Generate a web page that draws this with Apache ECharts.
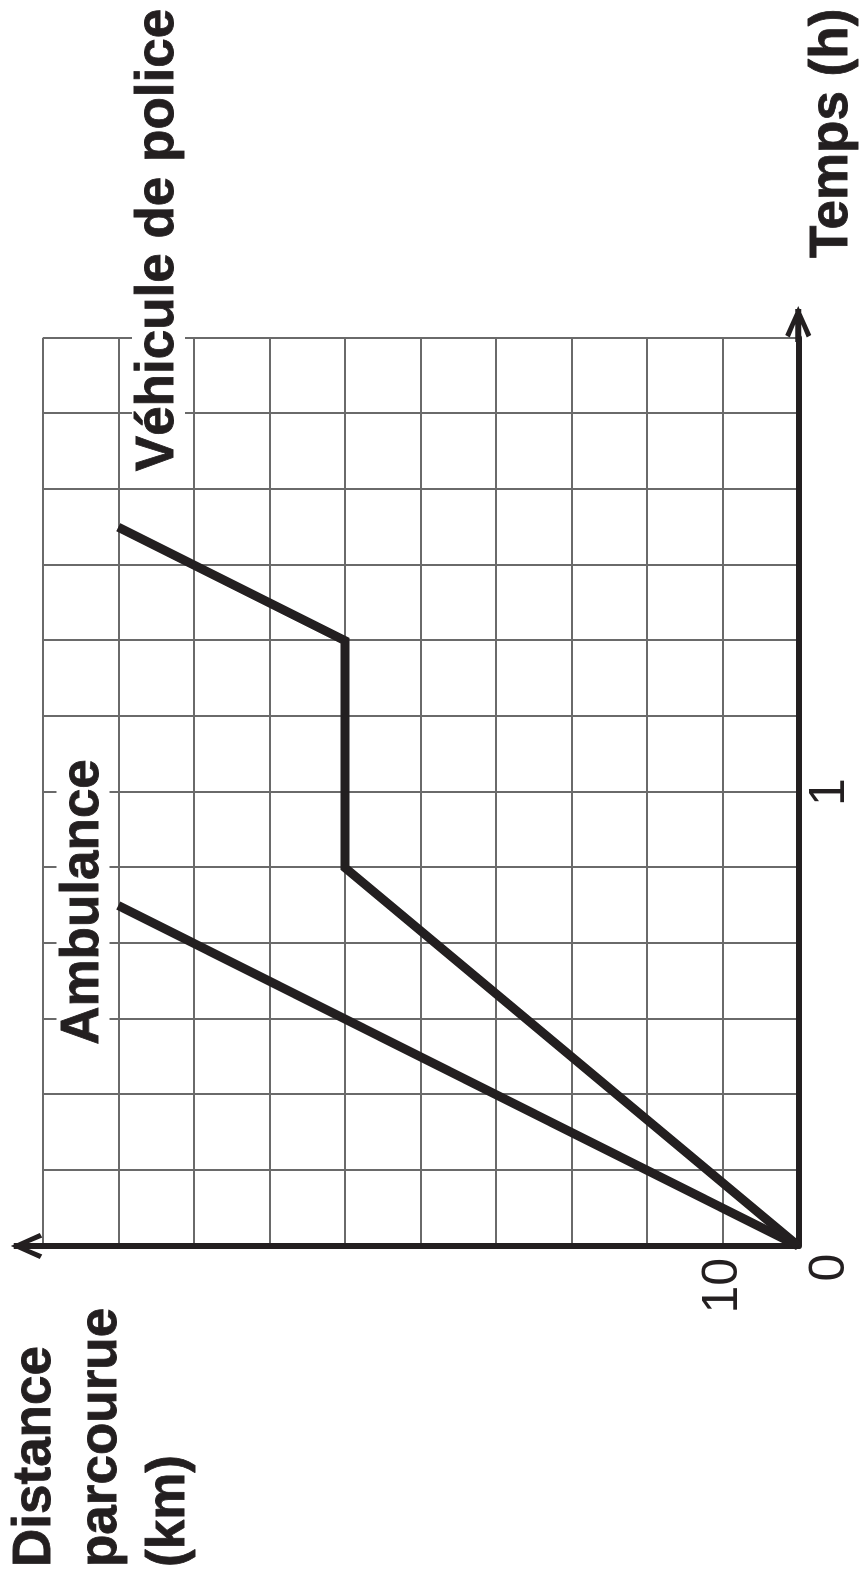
<!DOCTYPE html>
<html><head><meta charset="utf-8">
<script src="https://cdn.jsdelivr.net/npm/echarts@6/dist/echarts.min.js"></script>
<style>
html,body{margin:0;padding:0;background:#fff;overflow:hidden;width:862px;height:1581px;}
#wrap{position:absolute;left:0;top:0;width:1581px;height:862px;transform-origin:0 0;transform:translate(0,1581px) rotate(-90deg);background:#fff;}
</style></head><body><div id="wrap"></div>
<script>
// Time in minutes (axis labelled in hours), distance in km
const timeTicksMin = [0, 60];
const timeTickLabels = ['0', '1'];
const distTicks = [10];
const distTickLabels = ['10'];
const ambulanceTime = [0, 45];
const ambulanceDist = [0, 90];
const policeTime = [0, 50, 80, 95];
const policeDist = [0, 60, 60, 90];
const xTitle = 'Temps (h)';
const yTitleLines = ['Distance', 'parcourue', '(km)'];
const ambulanceName = 'Ambulance';
const policeName = 'Véhicule de police';

const INK = '#231f20';
const GRID = '#6a6a6a';
const FONT = '"Liberation Sans", Arial, Helvetica, sans-serif';
const arrowPath = 'path://M13,0 L26,29 L21.5,31.5 L13,11 L4.5,31.5 L0,29 Z M10,3 L16,3 L16,36 L10,36 Z';

const chart = echarts.init(document.getElementById('wrap'), null, {renderer: 'canvas'});

function pairs(xs, ys) { return xs.map((x, i) => [x, ys[i]]); }

const titleFont = 'bold 53px ' + FONT;
function titleStyle(text, align, bg) {
  const s = {text: text, font: titleFont, fill: INK, stroke: INK, lineWidth: 0.8,
    align: align, verticalAlign: 'middle'};
  if (bg) { s.backgroundColor = '#fff'; s.padding = [0, 4]; }
  return s;
}

const option = {
  animation: false,
  backgroundColor: '#fff',
  grid: {left: 335, right: 338, top: 42.7, bottom: 63.7, containLabel: false},
  xAxis: {
    type: 'value', min: 0, max: 120, interval: 10,
    axisLine: {show: true, onZero: false, lineStyle: {color: INK, width: 6},
      symbol: ['none', arrowPath], symbolSize: [26, 36], symbolOffset: [0, 14]},
    axisTick: {show: false},
    splitLine: {show: true, lineStyle: {color: GRID, width: 2}},
    axisLabel: {
      margin: 7, fontFamily: FONT, fontSize: 50, color: INK,
      formatter: function (v) {
        const i = timeTicksMin.indexOf(v);
        if (i < 0) return '';
        return v === 0 ? '{o|' + timeTickLabels[i] + '}' : timeTickLabels[i];
      },
      rich: {o: {fontFamily: FONT, fontSize: 50, color: INK, padding: [0, 43, 0, 0]}}
    }
  },
  yAxis: {
    type: 'value', min: 0, max: 100, interval: 10,
    axisLine: {show: true, onZero: false, lineStyle: {color: INK, width: 6},
      symbol: ['none', arrowPath], symbolSize: [26, 36], symbolOffset: [0, 14]},
    axisTick: {show: false},
    splitLine: {show: true, lineStyle: {color: GRID, width: 2}},
    axisLabel: {
      margin: 12, fontFamily: FONT, fontSize: 50, color: INK,
      formatter: function (v) {
        const i = distTicks.indexOf(v);
        return i < 0 ? '' : distTickLabels[i];
      }
    }
  },
  series: [
    {name: ambulanceName, type: 'line', data: pairs(ambulanceTime, ambulanceDist), symbol: 'none',
      lineStyle: {color: INK, width: 9, cap: 'butt', join: 'miter'}, z: 5},
    {name: policeName, type: 'line', data: pairs(policeTime, policeDist), symbol: 'none',
      lineStyle: {color: INK, width: 9, cap: 'butt', join: 'miter'}, z: 5}
  ],
  graphic: [
    {type: 'text', x: 679, y: 83, z: 100, style: titleStyle(ambulanceName, 'center', true)},
    {type: 'text', x: 1341, y: 158.5, z: 100, style: titleStyle(policeName, 'center', true)},
    {type: 'text', x: 1323, y: 832, z: 100, style: titleStyle(xTitle, 'left', false)},
    {type: 'text', x: 14, y: 35, z: 100, style: titleStyle(yTitleLines[0], 'left', false)},
    {type: 'text', x: 14, y: 101, z: 100, style: titleStyle(yTitleLines[1], 'left', false)},
    {type: 'text', x: 14, y: 169, z: 100, style: titleStyle(yTitleLines[2], 'left', false)}
  ]
};
chart.setOption(option);
</script></body></html>
